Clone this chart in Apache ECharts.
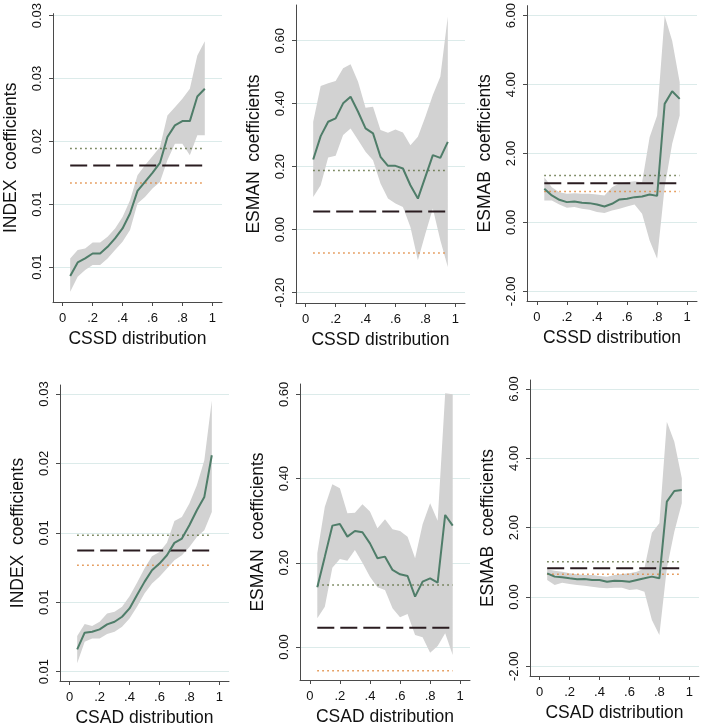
<!DOCTYPE html>
<html>
<head>
<meta charset="utf-8">
<script src="https://cdn.jsdelivr.net/npm/echarts@6/dist/echarts.min.js"></script>
<style>
  html, body { margin: 0; padding: 0; background: #fff; }
  #chart { width: 702px; height: 728px; }
</style>
</head>
<body>
<div id="chart"></div>
<script>
// quantiles where the regressions were run
const quantiles = [0.05, 0.10, 0.15, 0.20, 0.25, 0.30, 0.35, 0.40, 0.45, 0.50,
  0.55, 0.60, 0.65, 0.70, 0.75, 0.80, 0.85, 0.90, 0.95]
const xTicks = [0, 0.2, 0.4, 0.6, 0.8, 1]
const xTickLabels = ['0', '.2', '.4', '.6', '.8', '1']

// INDEX on CSSD
const indexCssdCoef = [0.00929, 0.01037, 0.01069, 0.01108, 0.01108, 0.01161, 0.01228, 0.01307, 0.01426, 0.01606,
  0.01677, 0.01749, 0.01828, 0.02034, 0.02127, 0.02161, 0.02161, 0.02357, 0.02418]
const indexCssdUpper = [0.01069, 0.01135, 0.01148, 0.01196, 0.01196, 0.01241, 0.01307, 0.01399, 0.01532, 0.01730,
  0.01810, 0.01881, 0.01955, 0.02206, 0.02272, 0.02339, 0.02418, 0.02683, 0.02796]
const indexCssdLower = [0.00804, 0.00923, 0.00976, 0.01016, 0.01016, 0.01069, 0.01135, 0.01201, 0.01294, 0.01505,
  0.01558, 0.01624, 0.01677, 0.01849, 0.01981, 0.01981, 0.01889, 0.02048, 0.02048]
const indexCssdOls = [0.01944, 0.01807, 0.01669] // upper ci, estimate, lower ci
const indexCssdTicks = [0.010, 0.015, 0.020, 0.025, 0.030]
const indexCssdTickLabels = ['0.01', '0.01', '0.02', '0.03', '0.03']

// ESMAN on CSSD
const esmanCssdCoef = [0.2228, 0.2971, 0.3427, 0.3533, 0.4011, 0.4223, 0.3745, 0.3215, 0.3056, 0.2313,
  0.2027, 0.2027, 0.1942, 0.1411, 0.0987, 0.1676, 0.2366, 0.2281, 0.2790]
const esmanCssdUpper = [0.3427, 0.4562, 0.4647, 0.4721, 0.5125, 0.5252, 0.4700, 0.3873, 0.3905, 0.3162,
  0.3077, 0.3183, 0.3088, 0.2684, 0.2950, 0.3586, 0.4276, 0.4859, 0.6769]
const esmanCssdLower = [0.1040, 0.1411, 0.2292, 0.2345, 0.3003, 0.3215, 0.2844, 0.2472, 0.2207, 0.1464,
  0.0987, 0.0828, 0.0721, 0.0085, -0.0976, -0.0127, 0.0668, -0.0340, -0.1188]
const esmanCssdOls = [0.1878, 0.0573, -0.0743]
const esmanCssdTicks = [-0.2, 0, 0.2, 0.4, 0.6]
const esmanCssdTickLabels = ['-0.20', '0.00', '0.20', '0.40', '0.60']

// ESMAB on CSSD
const esmabCssdCoef = [0.976, 0.783, 0.657, 0.589, 0.609, 0.570, 0.560, 0.522, 0.464, 0.541,
  0.667, 0.686, 0.734, 0.754, 0.812, 0.770, 3.440, 3.807, 3.585]
const esmabCssdUpper = [1.314, 1.024, 0.879, 0.831, 0.850, 0.831, 0.831, 0.812, 0.783, 1.024,
  1.140, 1.169, 1.198, 1.169, 2.473, 3.101, 6.000, 5.275, 4.068]
const esmabCssdLower = [0.638, 0.638, 0.522, 0.425, 0.444, 0.396, 0.367, 0.300, 0.271, 0.348,
  0.396, 0.464, 0.522, 0.251, -0.522, -1.053, 1.024, 2.280, 3.101]
const esmabCssdOls = [1.362, 1.140, 0.899]
const esmabCssdTicks = [-2, 0, 2, 4, 6]
const esmabCssdTickLabels = ['-2.00', '0.00', '2.00', '4.00', '6.00']

// INDEX on CSAD
const indexCsadCoef = [0.00661, 0.00781, 0.00788, 0.00805, 0.00841, 0.00860, 0.00896, 0.00956, 0.01052, 0.01147,
  0.01231, 0.01279, 0.01339, 0.01428, 0.01459, 0.01555, 0.01663, 0.01759, 0.02059]
const indexCsadUpper = [0.00757, 0.00843, 0.00829, 0.00860, 0.00920, 0.00932, 0.00968, 0.01044, 0.01140, 0.01243,
  0.01332, 0.01363, 0.01428, 0.01586, 0.01615, 0.01711, 0.01843, 0.02023, 0.02454]
const indexCsadLower = [0.00560, 0.00716, 0.00740, 0.00740, 0.00771, 0.00788, 0.00824, 0.00884, 0.00968, 0.01064,
  0.01135, 0.01183, 0.01243, 0.01303, 0.01339, 0.01399, 0.01471, 0.01519, 0.01651]
const indexCsadOls = [0.01483, 0.01373, 0.01267]
const indexCsadTicks = [0.005, 0.010, 0.015, 0.020, 0.025]
const indexCsadTickLabels = ['0.01', '0.01', '0.01', '0.02', '0.03']

// ESMAN on CSAD
const esmanCsadCoef = [0.1417, 0.2146, 0.2882, 0.2922, 0.2621, 0.2755, 0.2724, 0.2462, 0.2106, 0.2146,
  0.1829, 0.1726, 0.1686, 0.1196, 0.1552, 0.1631, 0.1528, 0.3135, 0.2882]
const esmanCsadUpper = [0.2225, 0.3333, 0.3864, 0.3769, 0.3175, 0.3191, 0.3389, 0.3215, 0.2819, 0.3033,
  0.2795, 0.2755, 0.2621, 0.2106, 0.2914, 0.3413, 0.3001, 0.6025, 0.6002]
const esmanCsadLower = [0.0681, 0.0958, 0.1884, 0.2090, 0.2051, 0.2304, 0.2003, 0.1671, 0.1417, 0.1354,
  0.0918, 0.0705, 0.0784, 0.0285, 0.0230, -0.0135, 0.0024, 0.0325, -0.0190]
const esmanCsadOls = [0.1473, 0.0459, -0.0562]
const esmanCsadTicks = [0, 0.2, 0.4, 0.6]
const esmanCsadTickLabels = ['0.00', '0.20', '0.40', '0.60']

// ESMAB on CSAD
const esmabCsadCoef = [0.683, 0.587, 0.567, 0.538, 0.510, 0.519, 0.490, 0.490, 0.442, 0.471,
  0.462, 0.442, 0.490, 0.538, 0.587, 0.538, 2.750, 3.058, 3.087]
const esmabCsadUpper = [0.798, 0.760, 0.731, 0.683, 0.654, 0.635, 0.635, 0.606, 0.587, 0.635,
  0.663, 0.683, 0.731, 0.827, 1.856, 2.125, 5.058, 4.481, 3.423]
const esmabCsadLower = [0.490, 0.346, 0.413, 0.375, 0.346, 0.327, 0.298, 0.269, 0.250, 0.269,
  0.269, 0.202, 0.221, 0.154, -0.663, -1.096, 0.827, 1.885, 2.702]
const esmabCsadOls = [1.019, 0.827, 0.654]
const esmabCsadTicks = [-2, 0, 2, 4, 6]
const esmabCsadTickLabels = ['-2.00', '0.00', '2.00', '4.00', '6.00']

const FONT = '"Liberation Sans", Arial, Helvetica, sans-serif'
const lineColor = '#4f7d69'
const bandColor = '#d2d2d2'
const axisColor = '#4a4a4a'
const gridColor = '#dcebea'

const panels = [
  { yName: 'INDEX  coefficients', xName: 'CSSD distribution', coef: indexCssdCoef, upper: indexCssdUpper, lower: indexCssdLower,
    ols: indexCssdOls, ticks: indexCssdTicks, tickLabels: indexCssdTickLabels, yMin: 0.00722, yMax: 0.03016,
    grid: { left: 53, top: 13, width: 169, height: 289 } },
  { yName: 'ESMAN  coefficients', xName: 'CSSD distribution', coef: esmanCssdCoef, upper: esmanCssdUpper, lower: esmanCssdLower,
    ols: esmanCssdOls, ticks: esmanCssdTicks, tickLabels: esmanCssdTickLabels, yMin: -0.233, yMax: 0.7135,
    grid: { left: 296, top: 5, width: 169, height: 298 } },
  { yName: 'ESMAB  coefficients', xName: 'CSSD distribution', coef: esmabCssdCoef, upper: esmabCssdUpper, lower: esmabCssdLower,
    ols: esmabCssdOls, ticks: esmabCssdTicks, tickLabels: esmabCssdTickLabels, yMin: -2.28, yMax: 6.29,
    grid: { left: 527, top: 5, width: 170, height: 296 } },
  { yName: 'INDEX  coefficients', xName: 'CSAD distribution', coef: indexCsadCoef, upper: indexCsadUpper, lower: indexCsadLower,
    ols: indexCsadOls, ticks: indexCsadTicks, tickLabels: indexCsadTickLabels, yMin: 0.00433, yMax: 0.02565,
    grid: { left: 60, top: 385, width: 169, height: 296 } },
  { yName: 'ESMAN  coefficients', xName: 'CSAD distribution', coef: esmanCsadCoef, upper: esmanCsadUpper, lower: esmanCsadLower,
    ols: esmanCsadOls, ticks: esmanCsadTicks, tickLabels: esmanCsadTickLabels, yMin: -0.0783, yMax: 0.6245,
    grid: { left: 300, top: 384, width: 170, height: 296 } },
  { yName: 'ESMAB  coefficients', xName: 'CSAD distribution', coef: esmabCsadCoef, upper: esmabCsadUpper, lower: esmabCsadLower,
    ols: esmabCsadOls, ticks: esmabCsadTicks, tickLabels: esmabCsadTickLabels, yMin: -2.28, yMax: 6.26,
    grid: { left: 530, top: 380, width: 169, height: 296 } }
]

const pickLabel = (ticks, labels) => v => {
  const i = ticks.findIndex(t => Math.abs(t - v) < 1e-9)
  return i < 0 ? '' : labels[i]
}

// confidence band drawn as one polygon: upper bound forward, lower bound back
const bandRenderer = p => (params, api) => {
  if (params.dataIndex !== 0) return null
  const top = quantiles.map((q, i) => api.coord([q, p.upper[i]]))
  const bottom = quantiles.map((q, i) => api.coord([q, p.lower[i]])).reverse()
  const cs = params.coordSys
  return {
    type: 'polygon',
    shape: { points: top.concat(bottom) },
    style: { fill: bandColor },
    clipPath: { type: 'rect', shape: { x: cs.x, y: cs.y, width: cs.width, height: cs.height } }
  }
}

const grids = []
const xAxes = []
const yAxes = []
const series = []

panels.forEach((p, k) => {
  grids.push(p.grid)
  xAxes.push({
    type: 'value', gridIndex: k, min: -0.065, max: 1.065,
    name: p.xName, nameLocation: 'middle', nameGap: 28,
    nameTextStyle: { fontFamily: FONT, fontSize: 17.5, color: '#111' },
    axisLine: { show: true, onZero: false, lineStyle: { color: axisColor, width: 1 } },
    axisTick: { show: true, length: 4, customValues: xTicks, lineStyle: { color: axisColor } },
    axisLabel: { customValues: xTicks, formatter: pickLabel(xTicks, xTickLabels), margin: 10,
      fontFamily: FONT, fontSize: 13, color: '#111' },
    splitLine: { show: false }
  })
  yAxes.push({
    type: 'value', gridIndex: k, min: p.yMin, max: p.yMax,
    name: p.yName, nameLocation: 'middle', nameGap: 33,
    nameTextStyle: { fontFamily: FONT, fontSize: 17.5, color: '#111' },
    axisLine: { show: true, onZero: false, lineStyle: { color: axisColor, width: 1 } },
    axisTick: { show: true, length: 4, customValues: p.ticks, lineStyle: { color: axisColor } },
    axisLabel: { customValues: p.ticks, formatter: pickLabel(p.ticks, p.tickLabels), rotate: 90, margin: 9,
      fontFamily: FONT, fontSize: 13, color: '#111' },
    splitLine: { show: true, lineStyle: { color: gridColor, width: 1 } }
  })

  const common = { xAxisIndex: k, yAxisIndex: k, symbol: 'none', silent: true, animation: false }
  series.push(Object.assign({}, common, {
    type: 'custom',
    renderItem: bandRenderer(p),
    data: quantiles.map((q, i) => [q, p.lower[i], p.upper[i]]),
    encode: { x: 0, y: [1, 2] }
  }))
  // OLS estimate and its confidence interval
  const span = v => [[quantiles[0], v], [quantiles[quantiles.length - 1], v]]
  series.push(Object.assign({}, common, {
    type: 'line', data: span(p.ols[0]),
    lineStyle: { color: '#5f7040', width: 1.5, type: [1.5, 3.5] }
  }))
  series.push(Object.assign({}, common, {
    type: 'line', data: span(p.ols[1]),
    lineStyle: { color: '#2a1c20', width: 2, type: [17, 6] }
  }))
  series.push(Object.assign({}, common, {
    type: 'line', data: span(p.ols[2]),
    lineStyle: { color: '#e0873a', width: 1.5, type: [1.5, 3.5] }
  }))
  // quantile coefficients
  series.push(Object.assign({}, common, {
    type: 'line', data: quantiles.map((q, i) => [q, p.coef[i]]),
    lineStyle: { color: lineColor, width: 2 }
  }))
})

const chart = echarts.init(document.getElementById('chart'))
chart.setOption({
  backgroundColor: '#fff',
  animation: false,
  grid: grids,
  xAxis: xAxes,
  yAxis: yAxes,
  series: series
})
</script>
</body>
</html>
